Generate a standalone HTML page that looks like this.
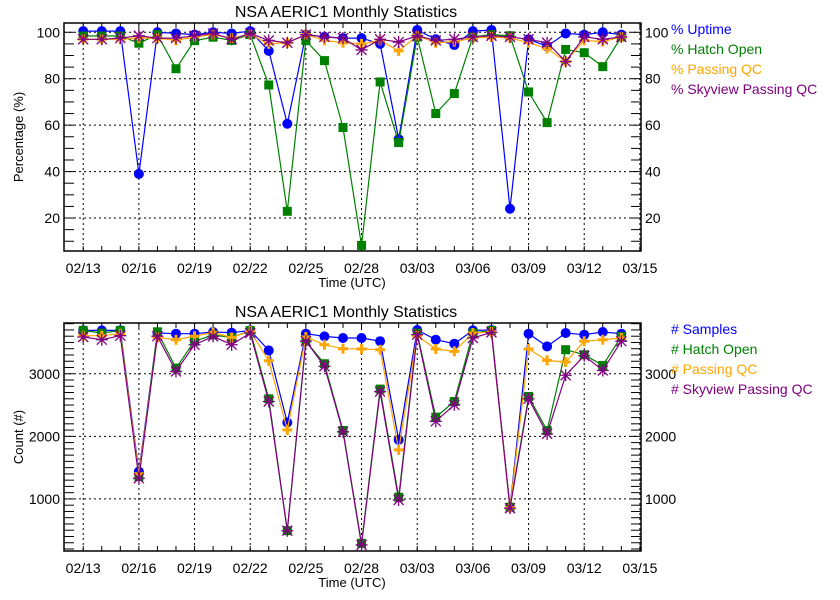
<!DOCTYPE html>
<html><head><meta charset="utf-8"><style>
html,body{margin:0;padding:0;background:#fff;}
svg{display:block;font-family:"Liberation Sans",sans-serif;}
</style></head><body>
<svg id="c" width="840" height="600" viewBox="0 0 840 600" xmlns="http://www.w3.org/2000/svg"></svg>
<script>
const days = ["02/13","02/14","02/15","02/16","02/17","02/18","02/19","02/20","02/21","02/22","02/23","02/24","02/25","02/26","02/27","02/28","03/01","03/02","03/03","03/04","03/05","03/06","03/07","03/08","03/09","03/10","03/11","03/12","03/13","03/14"];
const xTickLabels = ["02/13","02/16","02/19","02/22","02/25","02/28","03/03","03/06","03/09","03/12","03/15"];
const pctTicks = [20,40,60,80,100];
const cntTicks = [1000,2000,3000];
const uptime = [100.5,100.5,100.5,39,100,99.5,99,100,99.5,100.5,92,60.6,99,98,97.5,97.5,95,54,101,97,94.5,100.5,101,24,97,94,99.5,99,100,99];
const hatchOpen = [98.4,98.4,98.4,95.3,99,84.3,96.4,97.9,96.5,99,77.3,22.9,96.4,87.8,59,8.2,78.6,52.5,98,65,73.6,98,99,98.5,74.3,61.1,92.6,91.2,85.2,98];
const passingQc = [97,97,97,97.5,97.5,96.5,98,99,97.5,99,95,95.5,99,96.5,95.5,95,96.5,92,98.5,95.5,96,97.5,98,97.5,95.5,93,87.4,96.5,96,98];
const skyviewQc = [97,97,97.5,98.5,97.5,97.5,98.5,99.5,97,99.5,96.5,95.5,99,98,97.5,92.4,97,95.8,98.5,96.5,97,98,98.5,98,97,95.5,87.4,98,97,98];
const samples = [3693,3693,3693,1437,3651,3640,3640,3667,3656,3693,3373,2221,3640,3597,3571,3571,3520,1944,3699,3544,3480,3693,3699,870,3640,3437,3651,3624,3667,3640];
const hatchCnt = [3693,3650,3693,1357,3670,3091,3520,3620,3580,3690,2600,493,3520,3160,2093,291,2755,1027,3651,2307,2557,3651,3693,867,2637,2093,3384,3304,3133,3597];
const passCnt = [3608,3608,3640,1400,3581,3544,3600,3660,3580,3680,3208,2104,3587,3464,3400,3395,3384,1784,3608,3395,3357,3651,3667,860,3395,3213,3187,3520,3544,3571];
const skyCnt = [3587,3544,3608,1330,3600,3037,3464,3597,3464,3651,2557,492,3520,3120,2072,265,2715,983,3624,2240,2504,3571,3661,851,2600,2040,2976,3288,3053,3520];

const NS="http://www.w3.org/2000/svg";
const svg=document.getElementById('c');
function mk(tag,attrs,parent){const e=document.createElementNS(NS,tag);for(const k in attrs)e.setAttribute(k,attrs[k]);(parent||svg).appendChild(e);return e;}
const X0=64,X1=641,DMIN=-1.035,DMAX=30.06;
function xs(i){return X0+(i-DMIN)/(DMAX-DMIN)*(X1-X0);}
const COLORS={blue:"#0000ff",green:"#008000",orange:"#ffa500",purple:"#800080"};

function panel(opt){
  const g=mk('g',{});
  
  
  const ys=v=>opt.yb-(v-opt.ymin)/(opt.ymax-opt.ymin)*(opt.yb-opt.yt);
  opt.ticks.forEach(t=>{const l=mk('line',{x1:X0,x2:X1,y1:ys(t),y2:ys(t),stroke:"#000","stroke-dasharray":"2,3","stroke-width":1},g);
    });
  for(let d=0;d<=30;d+=3){const l=mk('line',{x1:xs(d),x2:xs(d),y1:opt.yt,y2:opt.yb,stroke:"#000","stroke-dasharray":"2,3","stroke-width":1},g);
    }
  for(let v=Math.ceil(opt.ymin/opt.minor)*opt.minor;v<=opt.ymax;v+=opt.minor){
    mk('line',{x1:X0,x2:X0+10,y1:ys(v),y2:ys(v),stroke:"#000"},g);
    mk('line',{x1:X1-10,x2:X1,y1:ys(v),y2:ys(v),stroke:"#000"},g);
  }
  for(let d=0;d<=30;d++){
    mk('line',{x1:xs(d),x2:xs(d),y1:opt.yb,y2:opt.yb-5,stroke:"#000"},g);
    mk('line',{x1:xs(d),x2:xs(d),y1:opt.yt,y2:opt.yt+5,stroke:"#000"},g);
  }
  const fr=mk('rect',{x:X0,y:opt.yt,width:X1-X0,height:opt.yb-opt.yt,fill:"none",stroke:"#000","stroke-width":1.5},g);
  
  opt.ticks.forEach(t=>{
    const a=mk('text',{x:60,y:ys(t)+5,"text-anchor":"end","font-size":14},g);a.textContent=t;
    
    const b=mk('text',{x:X1+4,y:ys(t)+5,"font-size":14},g);b.textContent=t;
    
  });
  xTickLabels.forEach((s,k)=>{const t=mk('text',{x:xs(k*3),y:opt.yb+22,"text-anchor":"middle","font-size":14},g);t.textContent=s;
    });
  const xt=mk('text',{x:352,y:opt.yb+36,"text-anchor":"middle","font-size":13},g);xt.textContent="Time (UTC)";
  
  const yc=(opt.yt+opt.yb)/2;
  const yt=mk('text',{x:23,y:yc,"text-anchor":"middle","font-size":13,transform:`rotate(-90 23 ${yc})`},g);yt.textContent=opt.ytitle;
  
  const tt=mk('text',{x:346,y:opt.yt-6,"text-anchor":"middle","font-size":16},g);tt.textContent="NSA AERIC1 Monthly Statistics";
  
  opt.series.forEach(s=>{
    const sg=mk('g',{},g);
    
    
    const pts=s.data.map((v,i)=>xs(i).toFixed(1)+","+ys(v).toFixed(1)).join(" ");
    mk('polyline',{points:pts,fill:"none",stroke:s.color,"stroke-width":1.2},sg);
    s.data.forEach((v,i)=>{
      const x=xs(i),y=ys(v);let m;
      if(s.mark==="circle")m=mk('circle',{cx:x,cy:y,r:5,fill:s.color},sg);
      else if(s.mark==="square")m=mk('rect',{x:x-4.5,y:y-4.5,width:9,height:9,fill:s.color},sg);
      else if(s.mark==="plus")m=mk('path',{d:`M${x-5},${y}H${x+5}M${x},${y-5}V${y+5}`,stroke:s.color,"stroke-width":3},sg);
      else m=mk('path',{d:`M${x-6},${y}H${x+6}M${x},${y-6}V${y+6}M${x-5},${y-5}L${x+5},${y+5}M${x-5},${y+5}L${x+5},${y-5}`,stroke:s.color,"stroke-width":1.3},sg);
      
      
    });
  });
  opt.series.forEach((s,k)=>{const t=mk('text',{x:671,y:opt.legY+k*20,"font-size":14,fill:s.color},g);t.textContent=s.label;
    });
}
panel({name:"percentage-panel",yt:23,yb:251,ymin:5.8,ymax:104,ticks:pctTicks,minor:5,ytitle:"Percentage (%)",legY:34,
  series:[{name:"uptime-series",data:uptime,color:COLORS.blue,mark:"circle",label:"% Uptime"},
          {name:"hatch-open-series",data:hatchOpen,color:COLORS.green,mark:"square",label:"% Hatch Open"},
          {name:"passing-qc-series",data:passingQc,color:COLORS.orange,mark:"plus",label:"% Passing QC"},
          {name:"skyview-qc-series",data:skyviewQc,color:COLORS.purple,mark:"star",label:"% Skyview Passing QC"}]});
panel({name:"count-panel",yt:323,yb:551,ymin:168,ymax:3811,ticks:cntTicks,minor:100,ytitle:"Count (#)",legY:334,
  series:[{name:"samples-series",data:samples,color:COLORS.blue,mark:"circle",label:"# Samples"},
          {name:"hatch-open-count-series",data:hatchCnt,color:COLORS.green,mark:"square",label:"# Hatch Open"},
          {name:"passing-qc-count-series",data:passCnt,color:COLORS.orange,mark:"plus",label:"# Passing QC"},
          {name:"skyview-qc-count-series",data:skyCnt,color:COLORS.purple,mark:"star",label:"# Skyview Passing QC"}]});
</script>
</body></html>
